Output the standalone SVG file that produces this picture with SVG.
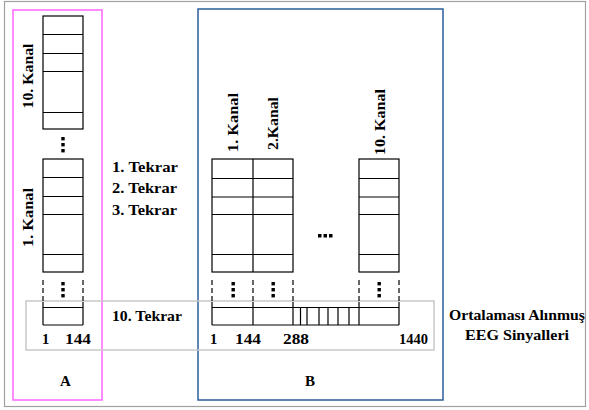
<svg xmlns="http://www.w3.org/2000/svg" width="589" height="410" viewBox="0 0 589 410">
<style>
.t{font-family:"Liberation Serif","DejaVu Serif","Times New Roman",serif;font-weight:bold;font-size:15px;fill:#000}
.n{font-size:14.5px}
.c{fill:none;stroke:#000;stroke-width:1.2}
.l{stroke:#000;stroke-width:1.2;fill:none}
.d{stroke:#000;stroke-width:1.2;stroke-dasharray:5 3;fill:none}
.dot{fill:#000}
</style>
<rect width="589" height="410" fill="#fff"/>
<rect id="frame" x="4.5" y="1.5" width="581" height="405" fill="none" stroke="#a0a0a0" stroke-width="1.2"/>

<g id="groupA">
  <rect x="13" y="10" width="89" height="390" fill="none" stroke="#ff66ff" stroke-width="1.5"/>
  <text class="t" x="65.5" y="386" text-anchor="middle">A</text>
</g>
<g id="groupB">
  <rect x="198" y="9" width="245" height="391" fill="none" stroke="#2b5d9b" stroke-width="1.5"/>
  <text class="t" x="310" y="386" text-anchor="middle">B</text>
</g>
<g id="highlight">
  <rect x="26" y="301" width="408" height="49" fill="none" stroke="#c8c8c8" stroke-width="1.5"/>
</g>

<g id="colA-ch10">
  <rect class="c" x="43" y="16" width="40" height="113"/>
  <path class="l" d="M43 34.5H83M43 53.5H83M43 71.5H83M43 112.5H83"/>
  <text class="t" transform="translate(33,76) rotate(-90)" text-anchor="middle" textLength="65" lengthAdjust="spacingAndGlyphs">10. Kanal</text>
</g>
<g id="colA-dots" class="dot">
  <rect x="61.3" y="137" width="3.4" height="3.4"/>
  <rect x="61.3" y="143" width="3.4" height="3.4"/>
  <rect x="61.3" y="149" width="3.4" height="3.4"/>
</g>
<g id="colA-ch1">
  <rect class="c" x="43" y="159" width="40" height="113"/>
  <path class="l" d="M43 177.5H83M43 196.5H83M43 214.5H83M43 254.5H83"/>
  <text class="t" transform="translate(33,217.5) rotate(-90)" text-anchor="middle" textLength="59" lengthAdjust="spacingAndGlyphs">1. Kanal</text>
  <path class="d" d="M43 280V302M83 280V302"/>
  <g class="dot">
    <rect x="61.3" y="282" width="3.4" height="3.4"/>
    <rect x="61.3" y="288" width="3.4" height="3.4"/>
    <rect x="61.3" y="294" width="3.4" height="3.4"/>
  </g>
  <path class="l" d="M43 302V325M83 302V325M43 307.5H83M43 325H83"/>
  <text class="t n" x="42" y="344">1</text>
  <text class="t n" x="65" y="344" textLength="26" lengthAdjust="spacingAndGlyphs">144</text>
</g>

<g id="repeats">
  <text class="t" x="112" y="172" textLength="66" lengthAdjust="spacingAndGlyphs">1. Tekrar</text>
  <text class="t" x="112" y="193" textLength="65" lengthAdjust="spacingAndGlyphs">2. Tekrar</text>
  <text class="t" x="112" y="215" textLength="65" lengthAdjust="spacingAndGlyphs">3. Tekrar</text>
  <text class="t" x="112" y="321" textLength="70" lengthAdjust="spacingAndGlyphs">10. Tekrar</text>
</g>

<g id="colB-ch1-2">
  <rect class="c" x="212" y="159" width="81" height="113"/>
  <path class="l" d="M253 159V272M212 178.5H293M212 197H293M212 214.5H293M212 254.5H293"/>
  <text class="t" transform="translate(238,122.5) rotate(-90)" text-anchor="middle" textLength="59" lengthAdjust="spacingAndGlyphs">1. Kanal</text>
  <text class="t" transform="translate(278,123.5) rotate(-90)" text-anchor="middle" textLength="53" lengthAdjust="spacingAndGlyphs">2.Kanal</text>
</g>
<g id="colB-ch10">
  <rect class="c" x="359" y="159" width="40" height="113"/>
  <path class="l" d="M359 178.5H399M359 197H399M359 214.5H399M359 254.5H399"/>
  <text class="t" transform="translate(385,122) rotate(-90)" text-anchor="middle" textLength="66" lengthAdjust="spacingAndGlyphs">10. Kanal</text>
</g>
<g id="colB-ellipsis" class="dot">
  <rect x="318" y="234" width="3.5" height="3.5"/>
  <rect x="323.5" y="234" width="3.5" height="3.5"/>
  <rect x="329" y="234" width="3.5" height="3.5"/>
</g>
<g id="colB-bottom">
  <path class="d" d="M212 280V302M253 280V302M293 280V302M359 280V302M399 280V302"/>
  <g class="dot">
    <rect x="231.5" y="282" width="3.4" height="3.4"/>
    <rect x="231.5" y="288" width="3.4" height="3.4"/>
    <rect x="231.5" y="294" width="3.4" height="3.4"/>
    <rect x="271.5" y="282" width="3.4" height="3.4"/>
    <rect x="271.5" y="288" width="3.4" height="3.4"/>
    <rect x="271.5" y="294" width="3.4" height="3.4"/>
    <rect x="377.5" y="282" width="3.4" height="3.4"/>
    <rect x="377.5" y="288" width="3.4" height="3.4"/>
    <rect x="377.5" y="294" width="3.4" height="3.4"/>
  </g>
  <path class="l" d="M212 302V325M253 302V325M293 302V325M359 302V325M399 302V325M212 307.5H399M212 325H399"/>
  <path class="l" d="M300.5 307.5V325M307 307.5V325M319 307.5V325M328 307.5V325M338 307.5V325M349 307.5V325"/>
  <text class="t n" x="210" y="344">1</text>
  <text class="t n" x="235" y="344" textLength="26" lengthAdjust="spacingAndGlyphs">144</text>
  <text class="t n" x="283" y="344" textLength="26" lengthAdjust="spacingAndGlyphs">288</text>
  <text class="t n" x="399" y="344">1440</text>
</g>

<g id="result">
  <text class="t" x="517" y="320" text-anchor="middle" textLength="136" lengthAdjust="spacingAndGlyphs">Ortalaması Alınmuş</text>
  <text class="t" x="517" y="340" text-anchor="middle" textLength="104" lengthAdjust="spacingAndGlyphs">EEG Sinyalleri</text>
</g>
<g id="connectors"/>
</svg>
